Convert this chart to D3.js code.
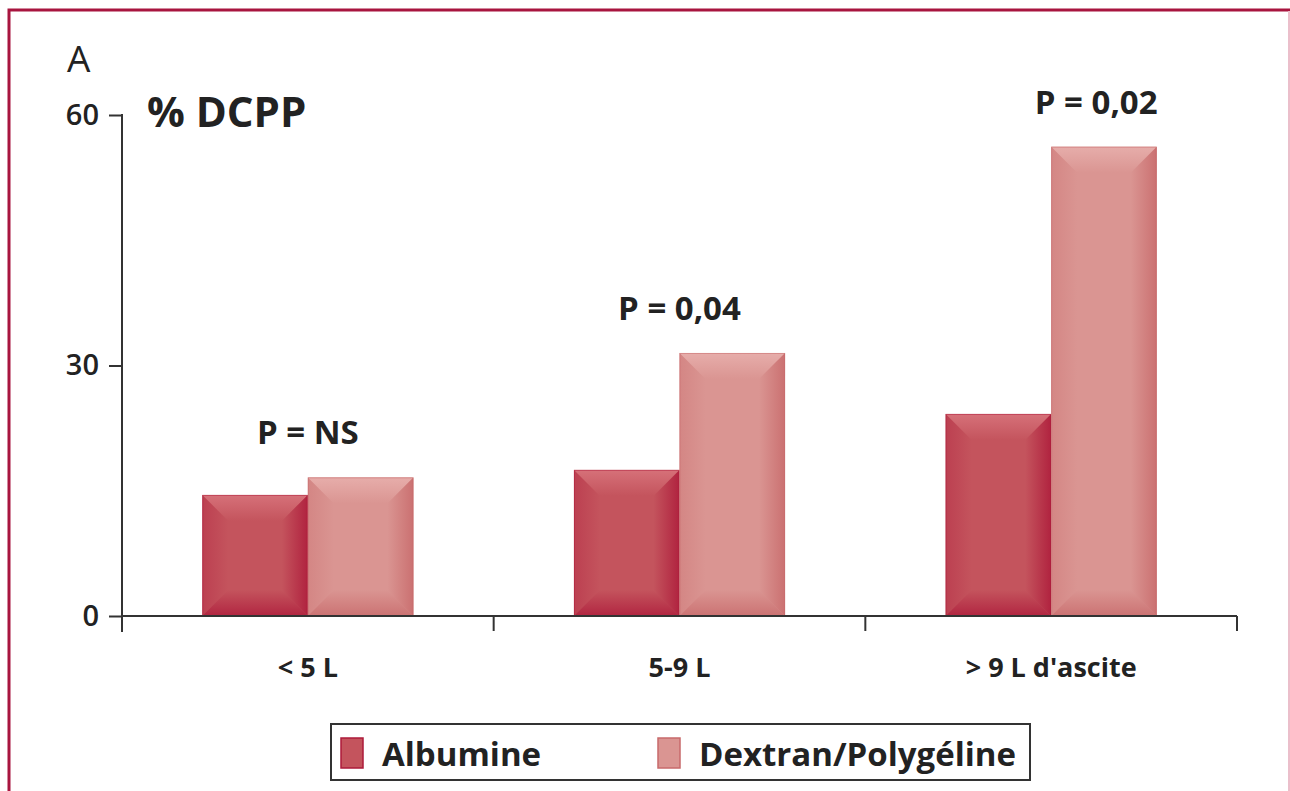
<!DOCTYPE html>
<html>
<head>
<meta charset="utf-8">
<script src="https://cdn.jsdelivr.net/npm/d3@7"></script>
<style>
  body { margin: 0; background: #fff; }
  svg { display: block; font-family: "Open Sans", "Noto Sans", sans-serif; }
</style>
</head>
<body>
<div id="chart"></div>
<script>
// data
const categories = ["< 5 L", "5-9 L", "> 9 L d'ascite"];
const series = ["Albumine", "Dextran/Polygéline"];
const albumine = [14.5, 17.5, 24.2];
const dextran = [16.6, 31.5, 56.2];
const pLabels = ["P = NS", "P = 0,04", "P = 0,02"];
const yTicks = [0, 30, 60];

const width = 1290, height = 791;
const margin = { left: 122, right: 53, top: 115, bottom: 175 };

const colors = {
  "Albumine": { main: "#c4545d", edge: "#ad1a3a", light: "#d8747c" },
  "Dextran/Polygéline": { main: "#da9592", edge: "#c86a6b", light: "#e8b0ad" }
};

const svg = d3.select('#chart')
  .append('svg')
  .attr('width', width)
  .attr('height', height)

// red frame (top + left), pale line on the right
svg.append('rect')
  .attr('x', 9).attr('y', 10)
  .attr('width', width + 20).attr('height', height + 20)
  .attr('fill', 'none')
  .attr('stroke', '#a8153f')
  .attr('stroke-width', 3)
svg.append('line')
  .attr('x1', width - 1).attr('x2', width - 1)
  .attr('y1', 11).attr('y2', height)
  .attr('stroke', '#ebbfcb').attr('stroke-width', 2)

const x0 = d3.scaleBand()
  .domain(categories)
  .range([margin.left, width - margin.right])
  .paddingInner(0.432)
  .paddingOuter(0.216)

const x1 = d3.scaleBand()
  .domain(series)
  .range([0, x0.bandwidth()])

const y = d3.scaleLinear()
  .domain([0, 60])
  .range([616, 115])

// bevel gradients
const defs = svg.append('defs')
function grad(id, x1_, y1_, x2_, y2_, color, o1, o2) {
  const g = defs.append('linearGradient').attr('id', id)
    .attr('x1', x1_).attr('y1', y1_).attr('x2', x2_).attr('y2', y2_)
  g.append('stop').attr('offset', '0%').attr('stop-color', color).attr('stop-opacity', o1)
  g.append('stop').attr('offset', '100%').attr('stop-color', color).attr('stop-opacity', o2)
}
series.forEach((s, i) => {
  const c = colors[s]
  grad('top' + i, 0, 0, 0, 1, c.light, 0.9, 0)
  grad('right' + i, 1, 0, 0, 0, c.edge, 0.85, 0)
  grad('bottom' + i, 0, 1, 0, 0, c.edge, 0.8, 0)
  grad('left' + i, 0, 0, 1, 0, c.edge, 0.35, 0)
})

const rows = categories.map((c, i) => ({ cat: c, values: [albumine[i], dextran[i]] }))

const groups = svg.selectAll('.group')
  .data(rows)
  .enter()
  .append('g')
  .attr('class', 'group')
  .attr('transform', d => `translate(${x0(d.cat)},0)`)

groups.each(function (d) {
  const g = d3.select(this)
  d.values.forEach((v, i) => {
    const s = series[i]
    const bx = x1(s), bw = x1.bandwidth()
    const by = y(v), bh = y(0) - y(v)
    const b = Math.min(26, bw / 3, bh / 2)
    const bar = g.append('g')
    bar.append('rect')
      .attr('x', bx).attr('y', by).attr('width', bw).attr('height', bh)
      .attr('fill', colors[s].main)
    // top bevel
    bar.append('path')
      .attr('d', `M${bx},${by}L${bx + bw},${by}L${bx + bw - b},${by + b}L${bx + b},${by + b}Z`)
      .attr('fill', `url(#top${i})`)
    // right bevel
    bar.append('path')
      .attr('d', `M${bx + bw},${by}L${bx + bw},${by + bh}L${bx + bw - b},${by + bh - b}L${bx + bw - b},${by + b}Z`)
      .attr('fill', `url(#right${i})`)
    // bottom bevel
    bar.append('path')
      .attr('d', `M${bx},${by + bh}L${bx + bw},${by + bh}L${bx + bw - b},${by + bh - b}L${bx + b},${by + bh - b}Z`)
      .attr('fill', `url(#bottom${i})`)
    // left bevel
    bar.append('path')
      .attr('d', `M${bx},${by}L${bx},${by + bh}L${bx + b},${by + bh - b}L${bx + b},${by + b}Z`)
      .attr('fill', `url(#left${i})`)
    bar.append('rect')
      .attr('x', bx + 0.5).attr('y', by + 0.5).attr('width', bw - 1).attr('height', bh - 1)
      .attr('fill', 'none').attr('stroke', colors[s].edge).attr('stroke-opacity', 0.5)
  })
})

// P value labels, above the tallest bar of each group
svg.selectAll('.plabel')
  .data(rows)
  .enter()
  .append('text')
  .attr('class', 'plabel')
  .attr('x', (d, i) => x0(d.cat) + x0.bandwidth() / 2 + (i === 2 ? 45 : 0))
  .attr('y', d => y(d3.max(d.values)) - 33)
  .attr('text-anchor', 'middle')
  .attr('font-size', 33)
  .attr('font-weight', 'bold')
  .attr('fill', '#222')
  .text((d, i) => pLabels[i])

// axes
const yAxis = d3.axisLeft(y).tickValues(yTicks).tickSize(13).tickPadding(10)
const yG = svg.append('g').attr('transform', `translate(${margin.left},0)`).call(yAxis)
yG.select('.domain').remove()
yG.selectAll('line').attr('stroke', '#333').attr('stroke-width', 2)
yG.selectAll('text').attr('font-size', 29).attr('font-weight', 600).attr('fill', '#222')
  .attr('font-family', '"Open Sans", sans-serif')
svg.append('line')
  .attr('x1', margin.left).attr('x2', margin.left)
  .attr('y1', y(60) - 1).attr('y2', 632)
  .attr('stroke', '#333').attr('stroke-width', 2)

const xAxis = d3.axisBottom(x0).tickSize(0).tickPadding(42)
const xG = svg.append('g').attr('transform', `translate(0,${y(0)})`).call(xAxis)
xG.select('.domain').remove()
xG.selectAll('text').attr('font-size', 27).attr('font-weight', 'bold').attr('fill', '#222')
  .attr('font-family', '"Open Sans", sans-serif')
svg.append('line')
  .attr('x1', margin.left).attr('x2', width - margin.right)
  .attr('y1', y(0)).attr('y2', y(0))
  .attr('stroke', '#333').attr('stroke-width', 2)
// boundary ticks between categories
const bounds = categories.map(c => x0(c) - x0.step() * x0.paddingInner() / 2 + x0.step())
svg.selectAll('.btick')
  .data(bounds)
  .enter()
  .append('line')
  .attr('x1', d => d).attr('x2', d => d)
  .attr('y1', y(0)).attr('y2', y(0) + 15)
  .attr('stroke', '#333').attr('stroke-width', 2)

// titles
svg.append('text')
  .attr('x', 67).attr('y', 72)
  .attr('font-size', 37)
  .attr('fill', '#222')
  .text('A')
svg.append('text')
  .attr('x', 147).attr('y', 127)
  .attr('font-size', 42)
  .attr('font-weight', 'bold')
  .attr('fill', '#222')
  .text('% DCPP')

// legend
const legend = svg.append('g')
legend.append('rect')
  .attr('x', 331).attr('y', 724).attr('width', 699).attr('height', 56)
  .attr('fill', '#fff').attr('stroke', '#333').attr('stroke-width', 2)
const legendX = [341, 658]
series.forEach((s, i) => {
  legend.append('rect')
    .attr('x', legendX[i]).attr('y', 738).attr('width', 22).attr('height', 30)
    .attr('fill', colors[s].main)
    .attr('stroke', colors[s].edge).attr('stroke-width', 1.5)
  legend.append('text')
    .attr('x', legendX[i] + 41).attr('y', 766)
    .attr('font-size', 33)
    .attr('font-weight', 'bold')
    .attr('fill', '#222')
    .text(s)
})
</script>
</body>
</html>
